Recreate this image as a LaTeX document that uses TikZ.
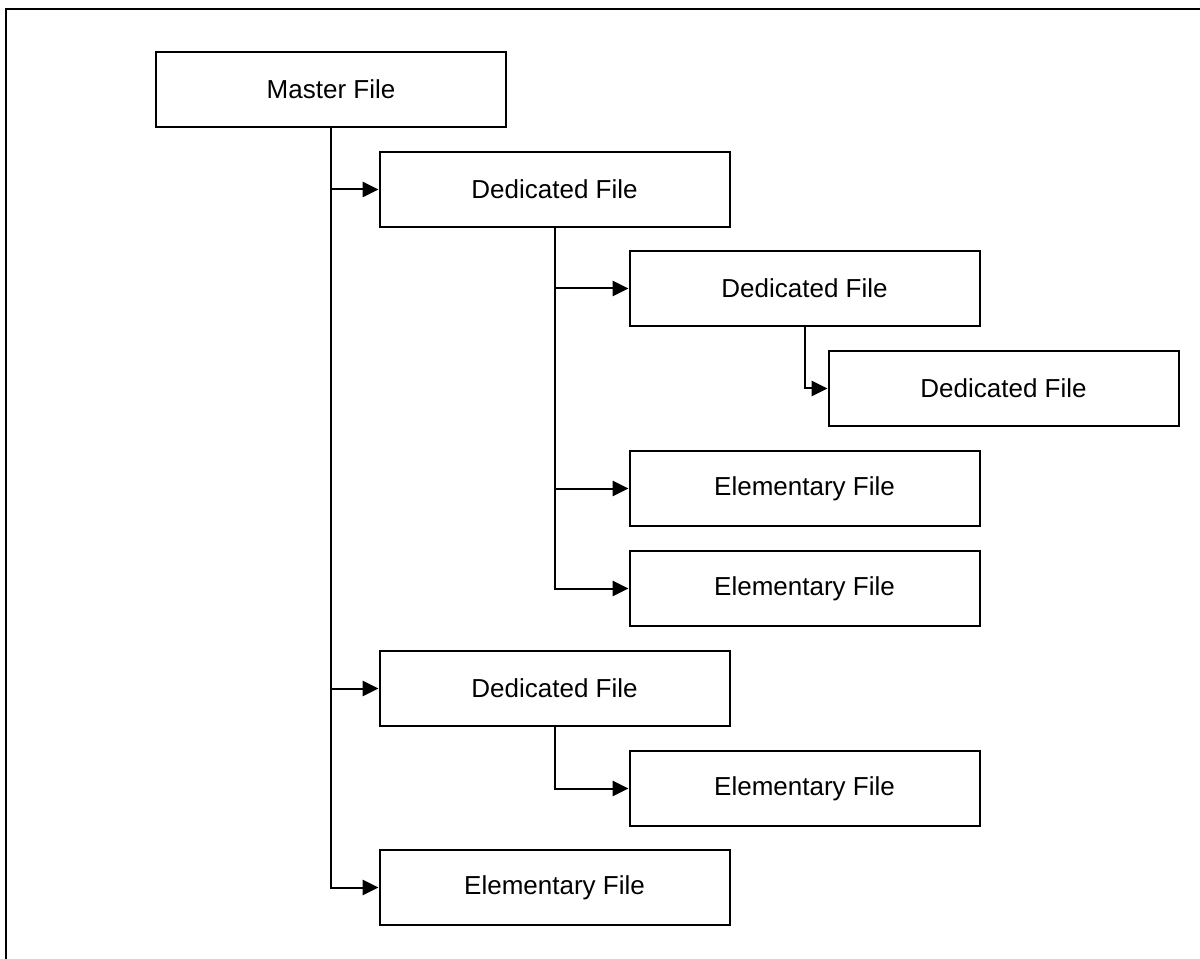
\documentclass[tikz,border=0pt]{standalone}
\usepackage{fontspec}
\setmainfont{Liberation Sans}
\usepackage{tikz}
\usetikzlibrary{arrows.meta}

\tikzset{
    filebox/.style={draw, line width=1.5pt, minimum width=262.5pt, minimum height=56.25pt, inner sep=0pt, font=\fontsize{19.5}{23}\selectfont},
    conn/.style={line width=1.5pt, -{Triangle[length=12pt,width=11.5pt]}}
}

\begin{document}
\begin{tikzpicture}[x=0.75pt,y=0.75pt,yscale=-1,xscale=1]
    \useasboundingbox (0,0) rectangle (1200,959);

    % Frame
    \draw [line width=2.2pt] (6,959) -- (6,9) -- (1200,9) ;

    % Text Node
    \node [filebox] (master) at (331,89.5) {Master File};
    % Text Node
    \node [filebox] (ded1) at (554.5,189.5) {Dedicated File};
    % Text Node
    \node [filebox] (ded2) at (804.5,288.5) {Dedicated File};
    % Text Node
    \node [filebox] (ded3) at (1003.5,388.5) {Dedicated File};
    % Text Node
    \node [filebox] (elem1) at (804.5,488.5) {Elementary File};
    % Text Node
    \node [filebox] (elem2) at (804.5,588.5) {Elementary File};
    % Text Node
    \node [filebox] (ded4) at (554.5,688.5) {Dedicated File};
    % Text Node
    \node [filebox] (elem3) at (804.5,788.5) {Elementary File};
    % Text Node
    \node [filebox] (elem4) at (554.5,887.5) {Elementary File};

    % Connection
    \draw [conn] (master.south) |- (ded1.west) ;
    \draw [conn] (master.south) |- (ded4.west) ;
    \draw [conn] (master.south) |- (elem4.west) ;
    % Connection
    \draw [conn] (ded1.south) |- (ded2.west) ;
    \draw [conn] (ded1.south) |- (elem1.west) ;
    \draw [conn] (ded1.south) |- (elem2.west) ;
    % Connection
    \draw [conn] (ded2.south) |- (ded3.west) ;
    % Connection
    \draw [conn] (ded4.south) |- (elem3.west) ;

\end{tikzpicture}
\end{document}
